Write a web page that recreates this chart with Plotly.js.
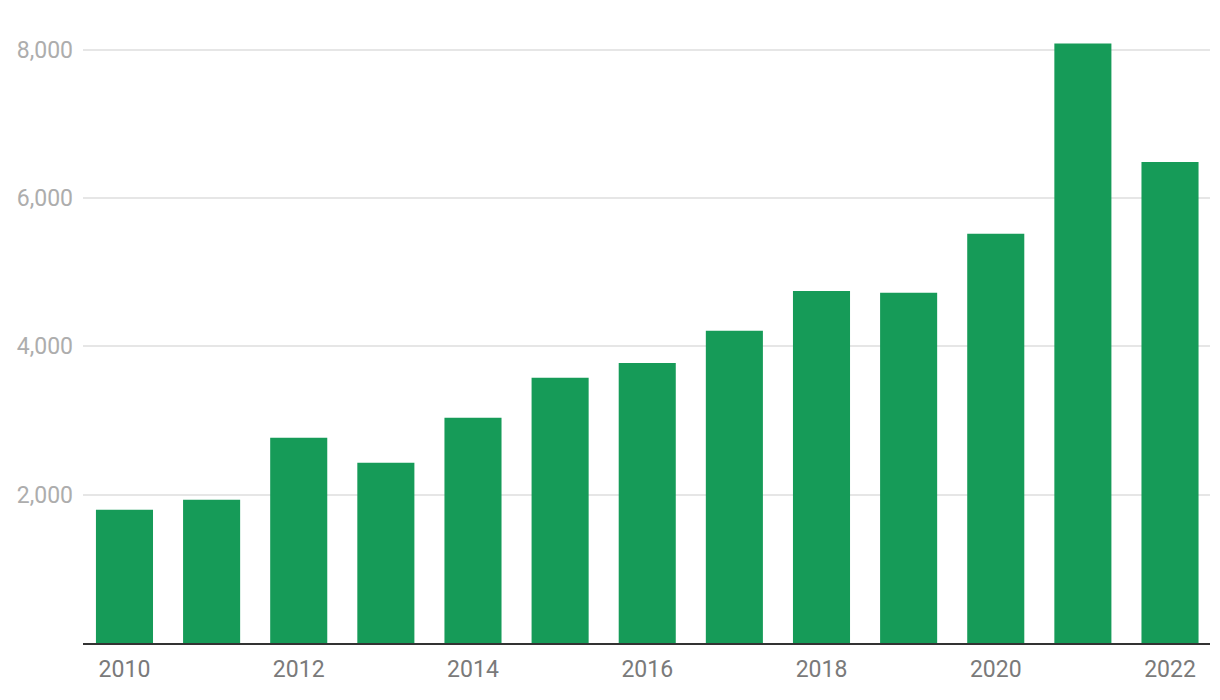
<!DOCTYPE html>
<html>
<head>
<meta charset="utf-8">
<script src="https://cdn.plot.ly/plotly-3.0.1.min.js"></script>
<style>html,body{margin:0;padding:0;background:#fff;}#chart{width:1220px;height:700px;}</style>
</head>
<body>
<div id="chart"></div>
<script>
const years = [2010, 2011, 2012, 2013, 2014, 2015, 2016, 2017, 2018, 2019, 2020, 2021, 2022];
const values = [1795, 1930, 2765, 2430, 3035, 3575, 3775, 4210, 4745, 4720, 5515, 8080, 6485];
const yTicks = [2000, 4000, 6000, 8000];
const yTickLabels = ["2,000", "4,000", "6,000", "8,000"];
const xTicks = [2010, 2012, 2014, 2016, 2018, 2020, 2022];

Plotly.newPlot('chart', [{
  type: 'bar',
  x: years,
  y: values,
  marker: {color: '#169B58'},
  hoverinfo: 'x+y'
}], {
  width: 1220, height: 700,
  margin: {l: 83, r: 10, t: 40, b: 57},
  paper_bgcolor: '#fff', plot_bgcolor: '#fff',
  bargap: 0.345,
  showlegend: false,
  xaxis: {
    range: [2009.524, 2022.459],
    tickvals: xTicks,
    ticktext: xTicks.map(String),
    showgrid: false,
    showline: true, linecolor: '#333', linewidth: 2,
    ticks: '',
    ticklabelstandoff: 4,
    tickfont: {family: 'Roboto, sans-serif', size: 23, color: '#7a7a7a'},
    fixedrange: true
  },
  yaxis: {
    range: [0, 8128],
    tickvals: yTicks,
    ticktext: yTickLabels,
    showgrid: true, gridcolor: '#e6e6e6', gridwidth: 1.5,
    zeroline: false,
    ticks: '',
    ticklabelstandoff: 9,
    tickfont: {family: 'Roboto, sans-serif', size: 23, color: '#adadad'},
    fixedrange: true
  }
}, {displayModeBar: false});
</script>
</body>
</html>
